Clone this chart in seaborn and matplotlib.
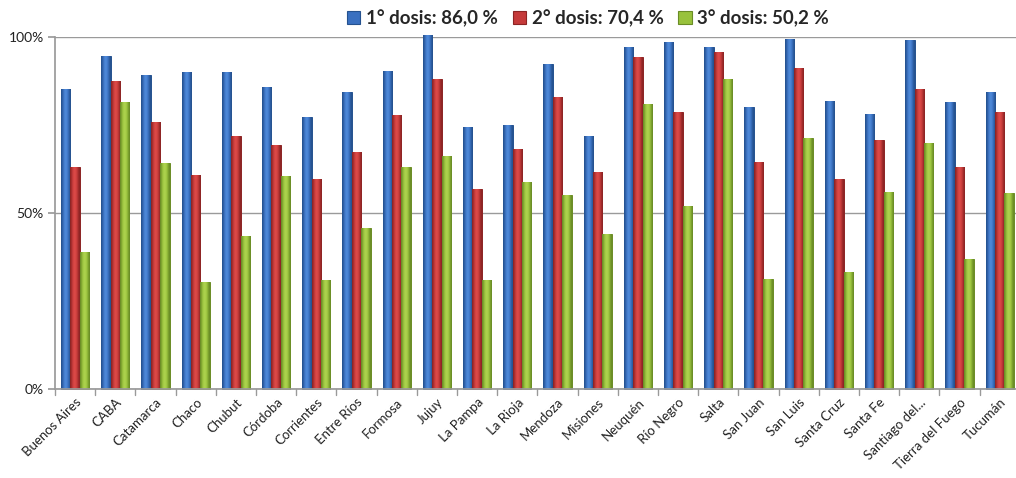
import matplotlib
matplotlib.use("Agg")
import matplotlib.pyplot as plt
import seaborn as sns
import pandas as pd
import numpy as np
from matplotlib.patches import Patch
from matplotlib.colors import LinearSegmentedColormap

provincias = ["Buenos Aires", "CABA", "Catamarca", "Chaco", "Chubut", "Córdoba",
              "Corrientes", "Entre Ríos", "Formosa", "Jujuy", "La Pampa", "La Rioja",
              "Mendoza", "Misiones", "Neuquén", "Río Negro", "Salta", "San Juan",
              "San Luis", "Santa Cruz", "Santa Fe", "Santiago del...",
              "Tierra del Fuego", "Tucumán"]
dosis1 = [85.2, 94.6, 89.1, 90.0, 90.0, 85.7, 77.2, 84.3, 90.2, 100.7, 74.3, 74.9,
          92.2, 71.8, 97.1, 98.5, 97.1, 80.0, 99.3, 81.7, 78.0, 99.1, 81.4, 84.3]
dosis2 = [63.1, 87.4, 75.8, 60.7, 71.8, 69.2, 59.6, 67.2, 77.7, 88.0, 56.7, 68.1,
          82.9, 61.6, 94.2, 78.6, 95.6, 64.4, 91.1, 59.6, 70.6, 85.1, 63.0, 78.6]
dosis3 = [38.8, 81.4, 64.1, 30.3, 43.4, 60.4, 30.9, 45.6, 63.0, 66.1, 30.9, 58.7,
          55.0, 43.9, 80.9, 51.9, 88.0, 31.2, 71.2, 33.2, 56.1, 69.8, 37.0, 55.6]
series = ["1° dosis: 86,0 %", "2° dosis: 70,4 %", "3° dosis: 50,2 %"]
colores = ["#3A70C0", "#C53A3A", "#98C23C"]
claros = ["#4F8BDA", "#DD4A48", "#AED34F"]
oscuros = ["#25528F", "#8C2424", "#6A8C26"]
yticks = [0, 50, 100]
ytick_labels = ["0%", "50%", "100%"]

df = pd.DataFrame({
    "provincia": provincias * 3,
    "serie": [series[0]] * 24 + [series[1]] * 24 + [series[2]] * 24,
    "valor": dosis1 + dosis2 + dosis3,
})

sns.set_theme(style="white")
plt.rcParams["font.family"] = ["Lato", "DejaVu Sans"]

W, H = 1016, 478
fig = plt.figure(figsize=(W / 100, H / 100), dpi=100)
left, right, top, bottom = 55, 55 + 24 * 40.2, 37, 389
ax = fig.add_axes([left / W, (H - bottom) / H, (right - left) / W, (bottom - top) / H])

sns.barplot(data=df, x="provincia", y="valor", hue="serie", palette=colores,
            width=0.7, ax=ax, legend=False, saturation=1)

ax.set_ylim(0, 100)
ax.set_xlim(-0.5, len(provincias) - 0.5)

# cylinder-like shading per bar
n = len(provincias)
grad = np.array([[0.0, 0.35, 0.7, 1.0, 0.9, 0.6, 0.25, 0.0]])
for i, p in enumerate(list(ax.patches[: 3 * n])):
    s = i // n
    p.set_edgecolor(oscuros[s])
    p.set_linewidth(0.7)
    p.set_clip_on(False)
    cmap = LinearSegmentedColormap.from_list(f"c{s}", [oscuros[s], colores[s], claros[s]])
    x0, y0 = p.get_x(), p.get_y()
    w, h = p.get_width(), p.get_height()
    im = ax.imshow(grad, cmap=cmap, vmin=0, vmax=1, aspect="auto",
                   extent=(x0, x0 + w, y0, y0 + h), zorder=p.get_zorder() + 0.1,
                   interpolation="bicubic")
    im.set_clip_path(p)
    im.set_clip_on(True)
ax.set_xlim(-0.5, n - 0.5)
ax.set_ylim(0, 100)

ax.set_yticks(yticks)
ax.set_yticklabels(ytick_labels, fontsize=10, color="#222222")
for y in yticks:
    ax.axhline(y, color="#9A9A9A", lw=1.0, zorder=0)
ax.set_axisbelow(True)

ax.set_xticks(np.arange(n))
ax.set_xticklabels(provincias, rotation=45, ha="right", rotation_mode="anchor",
                   fontsize=9.5, color="#222222")
ax.tick_params(axis="x", length=0, pad=5)
ax.tick_params(axis="y", length=5, color="#9A9A9A", left=True, pad=3)
for b in np.arange(n + 1) - 0.5:
    ax.plot([b, b], [0, -1.6], color="#9A9A9A", lw=1.0, clip_on=False)

for side in ["top", "right"]:
    ax.spines[side].set_visible(False)
ax.spines["left"].set_color("#9A9A9A")
ax.spines["bottom"].set_color("#9A9A9A")
ax.set_xlabel("")
ax.set_ylabel("")

handles = [Patch(facecolor=c, edgecolor=e, lw=0.8) for c, e in zip(colores, oscuros)]
fig.legend(handles, series, loc="center", bbox_to_anchor=(588 / W, 1 - 18 / H),
           ncol=3, frameon=False, prop={"family": "Lato", "weight": "bold", "size": 13.5},
           handlelength=0.7, handleheight=0.7, handletextpad=0.3, columnspacing=0.8)

fig.savefig("out.png", dpi=100)
